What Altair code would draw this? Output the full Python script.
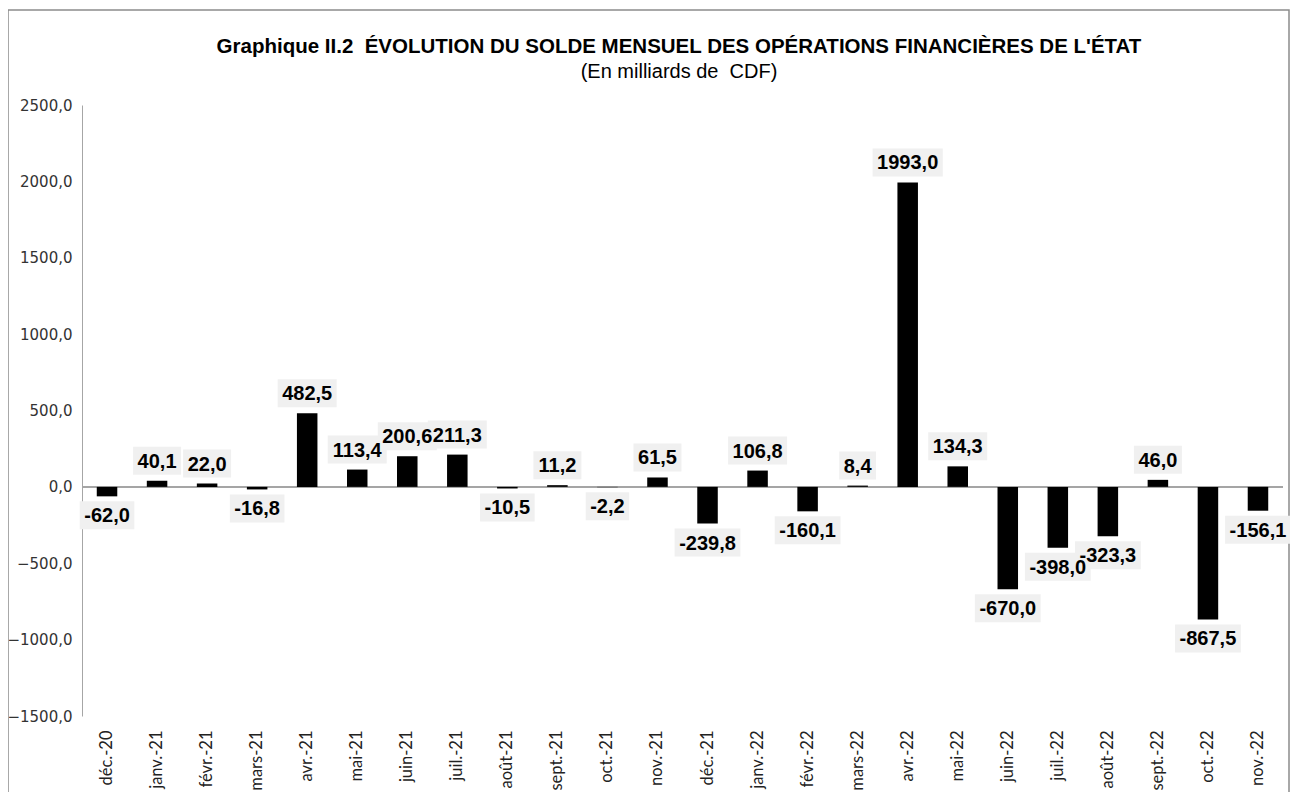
import altair as alt
import pandas as pd

months = ["déc.-20", "janv.-21", "févr.-21", "mars-21", "avr.-21", "mai-21",
          "juin-21", "juil.-21", "août-21", "sept.-21", "oct.-21", "nov.-21",
          "déc.-21", "janv.-22", "févr.-22", "mars-22", "avr.-22", "mai-22",
          "juin-22", "juil.-22", "août-22", "sept.-22", "oct.-22", "nov.-22"]
values = [-62.0, 40.1, 22.0, -16.8, 482.5, 113.4, 200.6, 211.3, -10.5, 11.2,
          -2.2, 61.5, -239.8, 106.8, -160.1, 8.4, 1993.0, 134.3, -670.0,
          -398.0, -323.3, 46.0, -867.5, -156.1]
y_ticks = [-1500, -1000, -500, 0, 500, 1000, 1500, 2000, 2500]

TITLE = "Graphique II.2\u00a0 ÉVOLUTION DU SOLDE MENSUEL DES OPÉRATIONS FINANCIÈRES DE L'ÉTAT"
SUBTITLE = "(En milliards de\u00a0 CDF)"

df = pd.DataFrame({"mois": months, "valeur": values})
df["label"] = [f"{v:.1f}".replace(".", ",") for v in values]

LBL_SIZE = 20


def box_path(s):
    w = 0.0
    for ch in s:
        if ch.isdigit():
            w += 0.556 * LBL_SIZE
        elif ch == ",":
            w += 0.278 * LBL_SIZE
        elif ch == "-":
            w += 0.333 * LBL_SIZE
    hw = w / 2 + 4.5
    return f"M{-hw:.1f},-14H{hw:.1f}V14H{-hw:.1f}Z"


df["box"] = [box_path(s) for s in df["label"]]

W, H = 1201, 611
LABEL_FONT = "Liberation Sans"
NARROW = "Liberation Sans Narrow, Arial Narrow, Liberation Sans, sans-serif"

x_enc = alt.X("mois:N", sort=months,
              scale=alt.Scale(paddingInner=0.59, paddingOuter=0.295),
              axis=alt.Axis(title=None, labelAngle=-90, domain=False, ticks=False,
                            labelPadding=14, labelFont="Lato", labelFontSize=16.5,
                            labelColor="#222222"))
y_enc = alt.Y("valeur:Q",
              scale=alt.Scale(domain=[-1500, 2500], nice=False, zero=True),
              axis=alt.Axis(title=None, values=y_ticks, grid=False, ticks=False,
                            domainColor="#a6a6a6", domainWidth=1,
                            labelExpr="replace(format(datum.value, '.1f'), '.', ',')",
                            labelFont="DejaVu Sans", labelFontSize=15,
                            labelColor="#333333", labelPadding=10))

base = alt.Chart(df)
one = pd.DataFrame({"t": [TITLE], "s": [SUBTITLE]})

frame = alt.Chart(one).mark_rect(
    fillOpacity=0, stroke="#8c8c8c", strokeWidth=1.5
).encode(x=alt.value(-74), x2=alt.value(1207), y=alt.value(-95), y2=alt.value(700))

title_txt = alt.Chart(one).mark_text(
    font=NARROW, fontSize=20.5, fontWeight="bold", color="#000000",
    align="center", baseline="alphabetic"
).encode(x=alt.value(597), y=alt.value(-52), text="t:N")

sub_txt = alt.Chart(one).mark_text(
    font=NARROW, fontSize=20, color="#000000",
    align="center", baseline="alphabetic"
).encode(x=alt.value(597), y=alt.value(-27), text="s:N")

zero = base.mark_rule(color="#a6a6a6", strokeWidth=1).encode(y=alt.datum(0))

bars = base.mark_bar(color="#000000").encode(x=x_enc, y=y_enc)

pos = base.transform_filter("datum.valeur >= 0")
neg = base.transform_filter("datum.valeur < 0")

box_pos = pos.mark_point(filled=True, size=4, color="#f0f0f0", opacity=1,
                         strokeWidth=0, yOffset=-20).encode(
    x=alt.X("mois:N", sort=months), y="valeur:Q",
    shape=alt.Shape("box:N", scale=None, legend=None))
box_neg = neg.mark_point(filled=True, size=4, color="#f0f0f0", opacity=1,
                         strokeWidth=0, yOffset=19).encode(
    x=alt.X("mois:N", sort=months), y="valeur:Q",
    shape=alt.Shape("box:N", scale=None, legend=None))

txt_pos = pos.mark_text(font=LABEL_FONT, fontSize=LBL_SIZE, fontWeight="bold",
                        color="#000000", baseline="middle", yOffset=-19).encode(
    x=alt.X("mois:N", sort=months), y="valeur:Q", text="label:N")
txt_neg = neg.mark_text(font=LABEL_FONT, fontSize=LBL_SIZE, fontWeight="bold",
                        color="#000000", baseline="middle", yOffset=20).encode(
    x=alt.X("mois:N", sort=months), y="valeur:Q", text="label:N")

chart = alt.layer(frame, title_txt, sub_txt, zero, bars, box_pos, box_neg,
                  txt_pos, txt_neg).properties(
    width=W, height=H,
    padding={"left": 74, "top": 97, "right": 7, "bottom": 76},
    autosize=alt.AutoSizeParams(type="none"),
).configure_view(stroke=None)

chart.save("out.html", embed_options={"renderer": "svg", "actions": False})
